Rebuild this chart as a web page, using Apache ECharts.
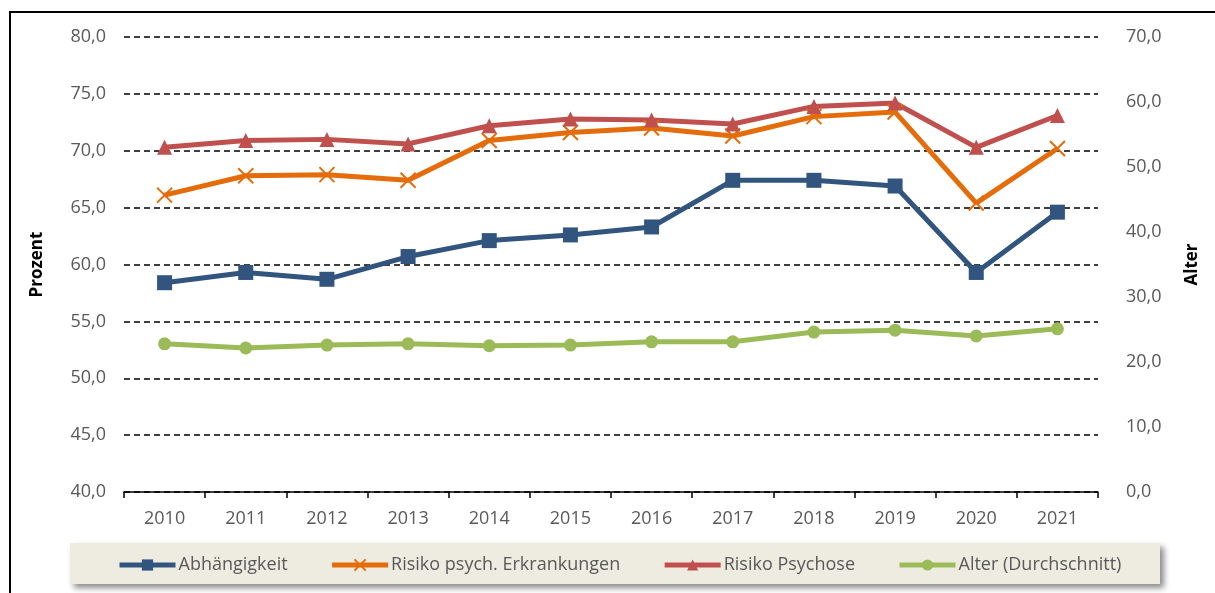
<!DOCTYPE html>
<html>
	<head>
		<meta charset="utf-8">
		<title>ECharts</title>
		<script src="https://cdn.jsdelivr.net/npm/echarts@6/dist/echarts.min.js"></script>
		<style type="text/css">
			html, body { margin: 0; padding: 0; background: #fff; }
			#main { width: 1215px; height: 593px; }
		</style>
	</head>
	<body>
		<div id="main"></div>
	<script type="text/javascript">
		// Daten
		var jahre = ['2010', '2011', '2012', '2013', '2014', '2015', '2016', '2017', '2018', '2019', '2020', '2021'];
		var abhaengigkeit = [58.4, 59.3, 58.7, 60.7, 62.1, 62.6, 63.3, 67.4, 67.4, 66.9, 59.3, 64.6];
		var risikoPsych = [66.1, 67.8, 67.9, 67.4, 70.9, 71.6, 72.0, 71.3, 73.0, 73.4, 65.4, 70.2];
		var risikoPsychose = [70.3, 70.9, 71.0, 70.6, 72.2, 72.8, 72.7, 72.35, 73.9, 74.2, 70.3, 73.1];
		var alter = [22.8, 22.15, 22.6, 22.8, 22.5, 22.6, 23.1, 23.1, 24.6, 24.9, 24.0, 25.1];

		var fontName = 'Open Sans';
		var grau = '#595959';
		// X-Symbol (Excel-Stil)
		var kreuz = 'path://M0,0 L10,10 M10,0 L0,10';

		function komma(v) {
			return v.toFixed(1).replace('.', ',');
		}

		function serie(name, daten, farbe, symbol, groesse, achse) {
			return {
				name: name,
				type: 'line',
				yAxisIndex: achse,
				data: daten,
				symbol: symbol,
				symbolSize: groesse,
				showAllSymbol: true,
				lineStyle: { color: farbe, width: 5 },
				itemStyle: { color: farbe, borderColor: farbe, borderWidth: symbol === kreuz ? 2 : 0 },
				emphasis: { disabled: true },
				z: 3
			};
		}

		var myChart = echarts.init(document.getElementById('main'));
		var option = {
			animation: false,
			textStyle: { fontFamily: fontName },
			graphic: [
				{
					type: 'rect',
					shape: { x: 70, y: 543, width: 1090, height: 41 },
					style: {
						fill: '#EEECE1',
						shadowBlur: 6,
						shadowOffsetX: 4,
						shadowOffsetY: 4,
						shadowColor: 'rgba(0,0,0,0.45)'
					},
					z: 0
				},
				{
					type: 'polyline',
					shape: { points: [[10, 600], [10, 12], [1215, 12]] },
					style: { stroke: '#000', lineWidth: 2, fill: null },
					z: 0
				}
			],
			legend: {
				left: 112,
				top: 551,
				itemWidth: 56,
				itemHeight: 14,
				itemGap: 42,
				lineStyle: { width: 5 },
				textStyle: { color: grau, fontSize: 18, fontFamily: fontName, padding: [0, 0, 0, -2] },
				data: ['Abhängigkeit', 'Risiko psych. Erkrankungen', 'Risiko Psychose', 'Alter (Durchschnitt)'],
				z: 5
			},
			grid: {
				left: 124,
				right: 117,
				top: 37,
				bottom: 101
			},
			xAxis: {
				type: 'category',
				data: jahre,
				boundaryGap: true,
				axisLine: { lineStyle: { color: '#000', width: 1.5 } },
				axisTick: { show: true, length: 6, lineStyle: { color: '#000', width: 1.5 } },
				axisLabel: { color: grau, fontSize: 18, margin: 18, fontFamily: fontName }
			},
			yAxis: [
				{
					type: 'value',
					name: 'Prozent',
					nameLocation: 'middle',
					nameRotate: 90,
					nameGap: 78,
					nameTextStyle: { color: '#000', fontWeight: 'bold', fontSize: 17, fontFamily: fontName },
					min: 40,
					max: 80,
					interval: 5,
					axisLine: { show: false },
					axisTick: { show: false },
					axisLabel: { color: grau, fontSize: 18, margin: 18, formatter: komma, fontFamily: fontName },
					splitLine: { lineStyle: { color: '#000', width: 1.5, type: [6, 4] } }
				},
				{
					type: 'value',
					name: 'Alter',
					nameLocation: 'middle',
					nameRotate: 90,
					nameGap: 86,
					nameTextStyle: { color: '#000', fontWeight: 'bold', fontSize: 17, fontFamily: fontName },
					min: 0,
					max: 70,
					interval: 10,
					axisLine: { show: false },
					axisTick: { show: false },
					axisLabel: { color: grau, fontSize: 18, margin: 28, formatter: komma, fontFamily: fontName },
					splitLine: { show: false }
				}
			],
			series: [
				serie('Abhängigkeit', abhaengigkeit, '#31557F', 'rect', 15, 0),
				serie('Risiko psych. Erkrankungen', risikoPsych, '#E46C0A', kreuz, 15, 0),
				serie('Risiko Psychose', risikoPsychose, '#C0504D', 'triangle', 15, 0),
				serie('Alter (Durchschnitt)', alter, '#9BBB59', 'circle', 13, 1)
			]
		};
		myChart.setOption(option);
	</script>
	</body>
</html>
